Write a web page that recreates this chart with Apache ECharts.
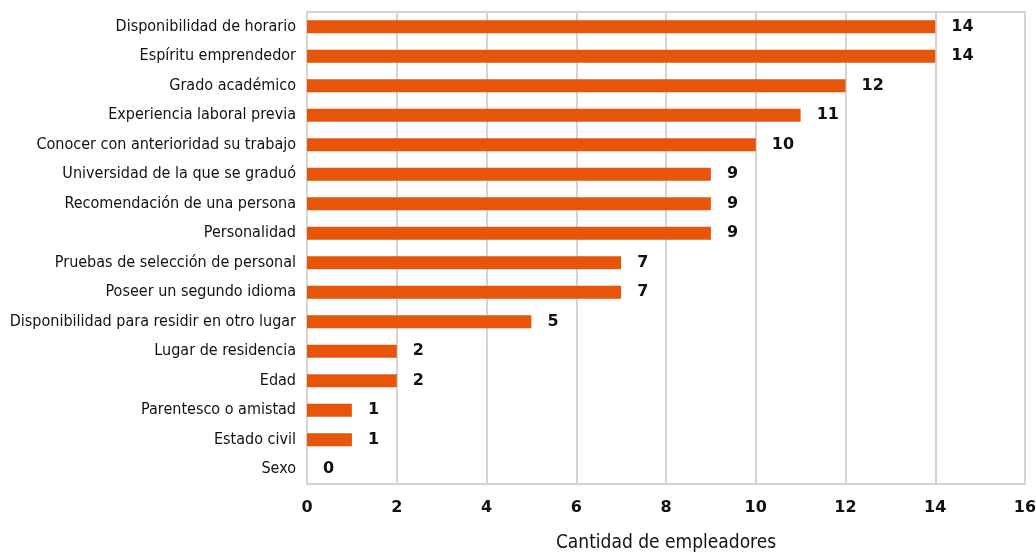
<!DOCTYPE html>
<html><head><meta charset="utf-8">
<script src="https://cdn.jsdelivr.net/npm/echarts@6/dist/echarts.min.js"></script>
<style>html,body{margin:0;padding:0;background:#fff}#c{width:1036px;height:552px}</style>
</head><body><div id="c"></div>
<script>
const categories = ["Disponibilidad de horario","Espíritu emprendedor","Grado académico","Experiencia laboral previa","Conocer con anterioridad su trabajo","Universidad de la que se graduó","Recomendación de una persona","Personalidad","Pruebas de selección de personal","Poseer un segundo idioma","Disponibilidad para residir en otro lugar","Lugar de residencia","Edad","Parentesco o amistad","Estado civil","Sexo"];
const values = [14,14,12,11,10,9,9,9,7,7,5,2,2,1,1,0];
const xTicks = [0,2,4,6,8,10,12,14,16];
const axisTitle = "Cantidad de empleadores";

const narrow = 'Liberation Sans Narrow, DejaVu Sans Condensed, sans-serif';
const chart = echarts.init(document.getElementById('c'));
chart.setOption({
  animation:false,
  grid:{left:307,right:11,top:12,bottom:68,show:true,borderColor:'#d4d4d4',borderWidth:2,containLabel:false,outerBoundsMode:'none'},
  xAxis:{type:'value',min:xTicks[0],max:xTicks[xTicks.length-1],interval:2,
    name:axisTitle,nameLocation:'middle',nameGap:50,
    nameTextStyle:{fontFamily:narrow,fontSize:19,color:'#111'},
    axisLine:{show:false},axisTick:{show:false},
    axisLabel:{fontFamily:'DejaVu Sans',fontWeight:'bold',fontSize:16,color:'#111',margin:16},
    splitLine:{lineStyle:{color:'#d4d4d4',width:2}}},
  yAxis:{type:'category',data:categories,inverse:true,
    axisLine:{show:false},axisTick:{show:false},
    axisLabel:{fontFamily:narrow,fontSize:16,color:'#111',margin:11}},
  series:[{type:'bar',data:values,barWidth:13,itemStyle:{color:'#E6550A'},
    label:{show:true,position:'right',distance:16,fontFamily:'DejaVu Sans',fontWeight:'bold',fontSize:16,color:'#111'}}]
});
</script></body></html>
